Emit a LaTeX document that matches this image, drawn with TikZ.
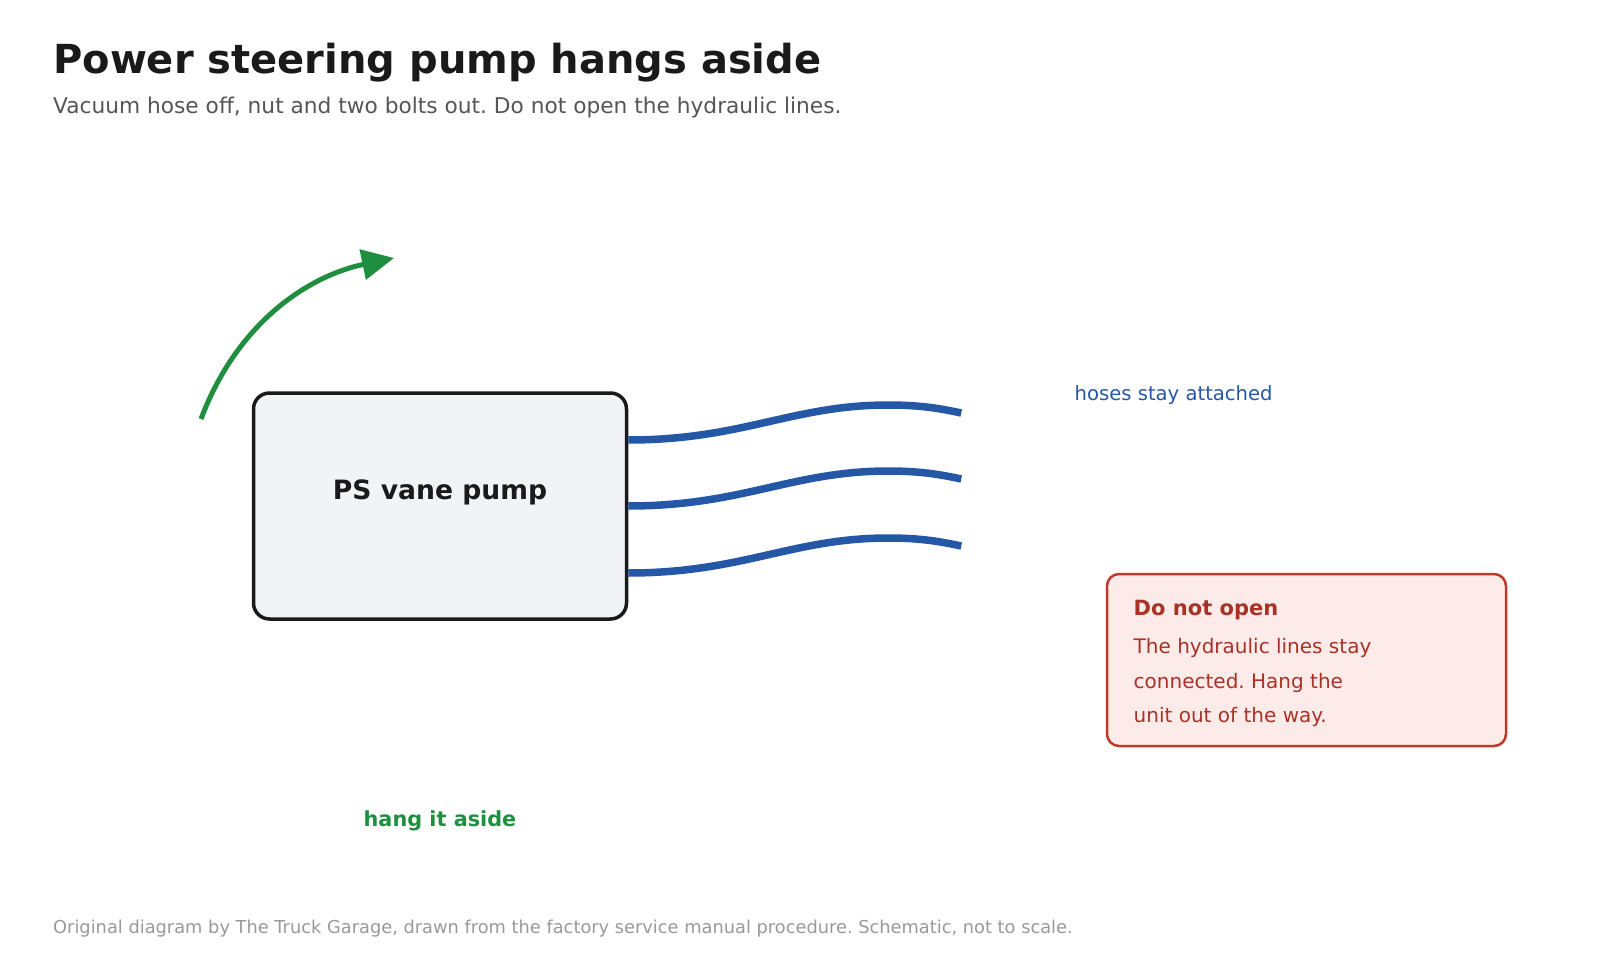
\documentclass[tikz,border=0pt]{standalone}
\usepackage{fontspec}
\setmainfont{DejaVu Sans}
\usepackage{tikz}
\usetikzlibrary{arrows.meta,positioning,calc}
\usepackage{xcolor}
\definecolor{ink}{HTML}{1A1A1A}
\definecolor{subgray}{HTML}{555555}
\definecolor{footgray}{HTML}{999999}
\definecolor{liftgreen}{HTML}{1F8F3F}
\definecolor{hoseblue}{HTML}{2557A7}
\definecolor{pumpfill}{HTML}{F2F3F7}
\definecolor{warnline}{HTML}{C0392B}
\definecolor{warnfill}{HTML}{FDEBEA}
\definecolor{warntext}{HTML}{A93226}
\frenchspacing

\begin{document}
\begin{tikzpicture}[x=1pt,y=-1pt,
  txt/.style={inner sep=0pt,anchor=base west},
  pump/.style={draw=ink,fill=pumpfill,line width=3.5pt,rounded corners=16pt,
    minimum width=373pt,minimum height=226pt},
  hose/.style={draw=hoseblue,line width=7.5pt},
  lift/.style={draw=liftgreen,line width=5pt,-{Triangle[length=32pt,width=30pt]}},
  warnbox/.style={draw=warnline,fill=warnfill,line width=2.5pt,rounded corners=12pt,
    minimum width=399pt,minimum height=172pt},
  warn/.style={txt,text=warntext,font=\fontsize{20}{24}\selectfont}]
\path[use as bounding box] (0,0) rectangle (1600,960);

% heading
\node[txt,text=ink,font=\fontsize{40}{48}\selectfont\bfseries] (title) at (53,73.5)
  {Power steering pump hangs aside};
\node[txt,text=subgray,font=\fontsize{21.7}{26}\selectfont] (subtitle) at (53,114)
  {Vacuum hose off, nut and two bolts out. Do not open the hydraulic lines.};

% pump and hoses
\node[pump] (pump) at (440,506) {};
\node[inner sep=0pt,anchor=base,text=ink,font=\fontsize{26.6}{30}\selectfont\bfseries]
  (pumplbl) at (440,499) {PS vane pump};
\foreach \n/\d in {1/-66,2/0,3/67} {
  \coordinate (hs\n) at ($(pump.east)+(0,\d)$);
  \coordinate (hp\n) at ($(hs\n)+(260,-35)$);
  \coordinate (he\n) at ($(hs\n)+(333,-27)$);
  \draw[hose] (hs\n) .. controls +(114,0) and +(-96,0) .. (hp\n)
    .. controls +(34,0) and +(-19,-4) .. (he\n);
}
\node[txt,text=hoseblue,font=\fontsize{19.6}{23}\selectfont] (hoselbl) at (1074.5,400)
  {hoses stay attached};

% lift arrow
\coordinate (liftstart) at (201,419);
\coordinate (liftend) at (394,258);
\draw[lift] (liftstart) .. controls (237,323) and (308,276) .. (liftend);
\node[inner sep=0pt,anchor=base,text=liftgreen,font=\fontsize{20.8}{24}\selectfont\bfseries]
  (liftlbl) at (440,826) {hang it aside};

% warning callout
\node[warnbox] (warnbx) at (1306.5,660) {};
\node[warn,font=\fontsize{21}{24}\selectfont\bfseries] (warnttl) at (1133.5,615) {Do not open};
\node[warn] (warn1) at (1133.5,653) {The hydraulic lines stay};
\node[warn] (warn2) at (1133.5,688) {connected. Hang the};
\node[warn] (warn3) at (1133.5,722.5) {unit out of the way.};

% footer
\node[txt,text=footgray,font=\fontsize{17.8}{21}\selectfont] (footer) at (53,933.5)
  {Original diagram by The Truck Garage, drawn from the factory service manual procedure. Schematic, not to scale.};
\end{tikzpicture}
\end{document}
